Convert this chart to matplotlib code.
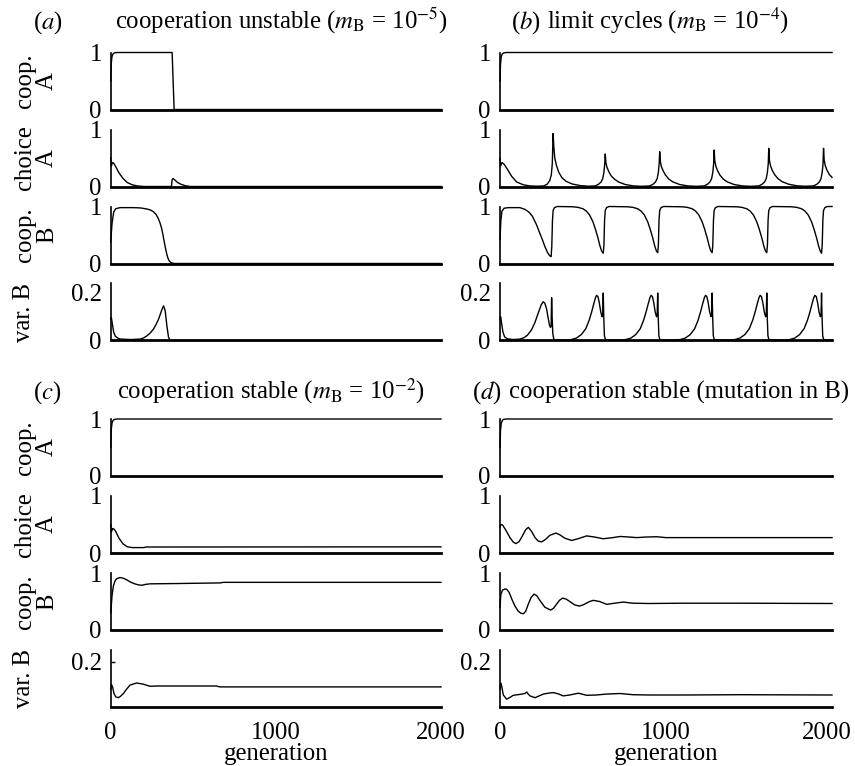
import matplotlib
matplotlib.use('Agg')
import matplotlib.pyplot as plt
import matplotlib.transforms as mtransforms

plt.rcParams['font.family'] = ['Liberation Serif', 'DejaVu Serif']
plt.rcParams['mathtext.fontset'] = 'stix'

# ---------------- data ----------------
xticks = [0, 1000, 2000]
xticklabels = ['0', '1000', '2000']
row_labels = ['coop.\nA', 'choice\nA', 'coop.\nB', 'var. B']
panel_letters = ['a', 'b', 'c', 'd']
panel_titles = [r'cooperation unstable ($m_{\mathrm{B}}$ = 10$^{-5}$)',
                r'limit cycles ($m_{\mathrm{B}}$ = 10$^{-4}$)',
                r'cooperation stable ($m_{\mathrm{B}}$ = 10$^{-2}$)',
                r'cooperation stable (mutation in B)']

# (a) cooperation unstable
a_coopA_gen = [0, 3, 8, 15, 25, 40, 372, 384, 2000]
a_coopA = [0.5, 0.8, 0.93, 0.98, 0.995, 1.0, 1.0, 0.0, 0.0]
a_choiceA_gen = [0, 4, 10, 18, 30, 50, 75, 100, 130, 160, 200, 368, 372, 378, 390, 405, 425, 450, 480, 2000]
a_choiceA = [0.5, 0.36, 0.42, 0.41, 0.35, 0.24, 0.14, 0.07, 0.03, 0.01, 0.0, 0.0, 0.12, 0.14, 0.11, 0.07, 0.04, 0.015, 0.0, 0.0]
a_coopB_gen = [0, 8, 18, 30, 56, 137, 180, 218, 240, 258, 275, 288, 299, 309, 316, 323, 331, 339, 346, 353, 361, 369, 385, 2000]
a_coopB = [0.38, 0.7, 0.9, 0.96, 0.98, 0.98, 0.975, 0.957, 0.94, 0.91, 0.86, 0.79, 0.71, 0.61, 0.51, 0.40, 0.28, 0.17, 0.1, 0.05, 0.025, 0.01, 0.0, 0.0]
a_varB_gen = [0, 4, 10, 18, 28, 45, 60, 120, 179, 200, 220, 240, 260, 275, 290, 300, 310, 320, 330, 340, 350, 360, 2000]
a_varB = [0.09, 0.097, 0.07, 0.035, 0.018, 0.009, 0.006, 0.004, 0.006, 0.011, 0.02, 0.032, 0.049, 0.068, 0.09, 0.11, 0.13, 0.146, 0.125, 0.063, 0.014, 0.0, 0.0]

# (b) limit cycles
b_coopA_gen = [0, 3, 8, 15, 25, 40, 2000]
b_coopA = [0.5, 0.8, 0.93, 0.98, 0.995, 1.0, 1.0]
b_choiceA_gen = [0, 4, 12, 25, 45, 70, 100, 140, 180, 230, 264, 284, 299, 309, 315, 320, 324, 330, 339, 354, 374, 399, 434, 484, 534,
                 574, 594, 609, 619, 626, 631, 634, 638, 644, 654, 669, 689, 714, 754, 804, 854,
                 902, 922, 937, 947, 954, 959, 962, 966, 972, 982, 997, 1017, 1042, 1082, 1132, 1182,
                 1230, 1250, 1265, 1275, 1282, 1287, 1290, 1294, 1300, 1310, 1325, 1345, 1370, 1410, 1460, 1510,
                 1559, 1579, 1594, 1604, 1611, 1616, 1619, 1623, 1629, 1639, 1654, 1674, 1699, 1739, 1789, 1839,
                 1889, 1909, 1924, 1934, 1941, 1946, 1949, 1953, 1959, 1969, 1984, 2000]
b_choiceA = [0.5, 0.36, 0.42, 0.39, 0.3, 0.18, 0.08, 0.03, 0.01, 0.005, 0.01, 0.04, 0.1, 0.2, 0.4, 0.93, 0.7, 0.5, 0.38, 0.25, 0.15, 0.09, 0.045, 0.015, 0.005,
             0.01, 0.04, 0.08, 0.14, 0.25, 0.4, 0.57, 0.42, 0.34, 0.27, 0.19, 0.13, 0.08, 0.035, 0.01, 0.003,
             0.01, 0.04, 0.08, 0.14, 0.25, 0.4, 0.61, 0.44, 0.35, 0.28, 0.2, 0.13, 0.08, 0.035, 0.01, 0.003,
             0.01, 0.04, 0.08, 0.14, 0.25, 0.4, 0.64, 0.45, 0.36, 0.28, 0.2, 0.13, 0.08, 0.035, 0.01, 0.003,
             0.01, 0.04, 0.08, 0.14, 0.25, 0.4, 0.67, 0.46, 0.37, 0.29, 0.21, 0.14, 0.085, 0.04, 0.012, 0.004,
             0.01, 0.04, 0.08, 0.14, 0.25, 0.4, 0.67, 0.46, 0.37, 0.29, 0.21, 0.16]
b_coopB_gen = [0, 5, 12, 25, 50, 120, 150, 175, 195, 220, 240, 255, 270, 285, 298, 308, 312, 316, 320, 328, 345,
               440, 470, 500, 520, 540, 560, 575, 590, 602, 612, 622, 626, 630, 634, 642, 657,
               770, 800, 830, 850, 870, 890, 905, 920, 932, 942, 950, 954, 958, 962, 970, 985,
               1098, 1128, 1158, 1178, 1198, 1218, 1233, 1248, 1260, 1270, 1278, 1282, 1286, 1290, 1298, 1313,
               1427, 1457, 1487, 1507, 1527, 1547, 1562, 1577, 1589, 1599, 1607, 1611, 1615, 1619, 1627, 1642,
               1757, 1787, 1817, 1837, 1857, 1877, 1892, 1907, 1919, 1929, 1937, 1941, 1945, 1949, 1957, 1972, 2000]
b_coopB = [0.42, 0.75, 0.92, 0.97, 0.98, 0.98, 0.95, 0.9, 0.83, 0.68, 0.53, 0.42, 0.3, 0.2, 0.14, 0.12, 0.3, 0.75, 0.93, 0.98, 1.0,
           0.995, 0.985, 0.96, 0.92, 0.85, 0.73, 0.6, 0.45, 0.31, 0.22, 0.18, 0.32, 0.76, 0.93, 0.98, 1.0,
           0.995, 0.985, 0.96, 0.92, 0.85, 0.73, 0.6, 0.45, 0.31, 0.22, 0.19, 0.32, 0.76, 0.93, 0.98, 1.0,
           0.995, 0.985, 0.96, 0.92, 0.85, 0.73, 0.6, 0.45, 0.31, 0.22, 0.19, 0.32, 0.76, 0.93, 0.98, 1.0,
           0.995, 0.985, 0.96, 0.92, 0.85, 0.73, 0.6, 0.45, 0.31, 0.22, 0.19, 0.32, 0.76, 0.93, 0.98, 1.0,
           0.995, 0.985, 0.96, 0.92, 0.85, 0.73, 0.6, 0.45, 0.31, 0.22, 0.18, 0.32, 0.76, 0.93, 0.98, 1.0, 1.0]
b_varB_gen = [0, 4, 10, 18, 28, 45, 80, 120, 145, 165, 190, 210, 230, 248, 260, 270, 280, 290, 298, 304, 308, 311, 314, 318, 324, 335,
              400, 430, 460, 490, 517, 537, 552, 565, 575, 582, 590, 598, 607, 615, 619, 622, 625, 629, 635, 650,
              728, 758, 788, 818, 845, 865, 880, 893, 903, 910, 918, 926, 935, 943, 947, 950, 953, 957, 963, 978,
              1056, 1086, 1116, 1146, 1173, 1193, 1208, 1221, 1231, 1238, 1246, 1254, 1263, 1271, 1275, 1278, 1281, 1285, 1291, 1306,
              1385, 1415, 1445, 1475, 1502, 1522, 1537, 1550, 1560, 1567, 1575, 1583, 1592, 1600, 1604, 1607, 1610, 1614, 1620, 1635,
              1715, 1745, 1775, 1805, 1832, 1852, 1867, 1880, 1890, 1897, 1905, 1913, 1922, 1930, 1934, 1937, 1940, 1944, 1950, 1965, 2000]
b_varB = [0.09, 0.1, 0.07, 0.035, 0.015, 0.007, 0.004, 0.006, 0.012, 0.022, 0.045, 0.075, 0.115, 0.15, 0.163, 0.157, 0.135, 0.095, 0.065, 0.055, 0.06, 0.18, 0.1, 0.03, 0.005, 0.002,
          0.002, 0.004, 0.01, 0.025, 0.05, 0.085, 0.12, 0.155, 0.18, 0.19, 0.185, 0.16, 0.12, 0.1, 0.11, 0.2, 0.1, 0.02, 0.004, 0.002,
          0.002, 0.004, 0.01, 0.025, 0.05, 0.085, 0.12, 0.155, 0.18, 0.19, 0.185, 0.16, 0.12, 0.1, 0.11, 0.2, 0.1, 0.02, 0.004, 0.002,
          0.002, 0.004, 0.01, 0.025, 0.05, 0.085, 0.12, 0.155, 0.18, 0.19, 0.185, 0.16, 0.12, 0.1, 0.11, 0.2, 0.1, 0.02, 0.004, 0.002,
          0.002, 0.004, 0.01, 0.025, 0.05, 0.085, 0.12, 0.155, 0.18, 0.19, 0.185, 0.16, 0.12, 0.1, 0.11, 0.2, 0.1, 0.02, 0.004, 0.002,
          0.002, 0.004, 0.01, 0.025, 0.05, 0.085, 0.12, 0.155, 0.18, 0.19, 0.185, 0.16, 0.12, 0.1, 0.11, 0.2, 0.1, 0.02, 0.004, 0.002, 0.002]

# (c) cooperation stable
c_coopA_gen = [0, 3, 8, 15, 25, 40, 2000]
c_coopA = [0.5, 0.8, 0.93, 0.98, 0.995, 1.0, 1.0]
c_choiceA_gen = [0, 4, 12, 20, 30, 50, 75, 100, 130, 160, 200, 215, 2000]
c_choiceA = [0.5, 0.37, 0.43, 0.42, 0.38, 0.26, 0.16, 0.11, 0.095, 0.095, 0.095, 0.105, 0.108]
c_coopB_gen = [0, 2, 8, 16, 26, 36, 56, 75, 97, 120, 145, 170, 190, 210, 238, 400, 662, 682, 2000]
c_coopB = [0.3, 0.36, 0.6, 0.77, 0.86, 0.9, 0.92, 0.91, 0.88, 0.84, 0.81, 0.79, 0.785, 0.8, 0.81, 0.815, 0.826, 0.836, 0.836]
c_varB_gen = [0, 5, 12, 20, 30, 46, 60, 77, 97, 117, 157, 198, 238, 278, 640, 660, 2000]
c_varB = [0.11, 0.125, 0.115, 0.095, 0.084, 0.081, 0.086, 0.095, 0.11, 0.123, 0.13, 0.126, 0.119, 0.12, 0.12, 0.117, 0.117]

# (d) cooperation stable (mutation in B)
d_coopA_gen = [0, 3, 8, 15, 25, 40, 2000]
d_coopA = [0.5, 0.8, 0.93, 0.98, 0.995, 1.0, 1.0]
d_choiceA_gen = [0, 5, 16, 35, 60, 80, 96, 115, 135, 155, 171, 190, 211, 230, 251, 275, 300, 337, 360, 390, 432, 470, 522, 570, 622, 680, 723, 780, 823, 880, 944, 1000, 2000]
d_choiceA = [0.45, 0.5, 0.49, 0.4, 0.27, 0.19, 0.165, 0.2, 0.3, 0.41, 0.45, 0.38, 0.27, 0.21, 0.195, 0.24, 0.31, 0.35, 0.32, 0.26, 0.22, 0.25, 0.30, 0.28, 0.25, 0.27, 0.29, 0.28, 0.27, 0.28, 0.285, 0.27, 0.27]
d_coopB_gen = [0, 5, 15, 30, 40, 55, 70, 90, 110, 125, 141, 155, 170, 187, 205, 222, 240, 270, 305, 322, 340, 358, 377, 400, 420, 450, 478, 500, 520, 540, 562, 600, 643, 690, 743, 800, 900, 1100, 1450, 2000]
d_coopB = [0.4, 0.62, 0.7, 0.72, 0.715, 0.66, 0.55, 0.42, 0.33, 0.295, 0.285, 0.33, 0.45, 0.57, 0.63, 0.6, 0.52, 0.4, 0.35, 0.38, 0.45, 0.52, 0.56, 0.54, 0.5, 0.44, 0.42, 0.44, 0.47, 0.5, 0.52, 0.5, 0.45, 0.47, 0.49, 0.47, 0.465, 0.47, 0.47, 0.465]
d_varB_gen = [0, 4, 10, 20, 40, 60, 80, 120, 150, 161, 170, 181, 211, 240, 261, 290, 321, 350, 381, 420, 472, 522, 580, 640, 723, 800, 900, 1100, 1450, 2000]
d_varB = [0.11, 0.13, 0.12, 0.09, 0.076, 0.082, 0.089, 0.092, 0.095, 0.1, 0.093, 0.087, 0.081, 0.088, 0.093, 0.096, 0.098, 0.094, 0.087, 0.09, 0.096, 0.089, 0.09, 0.093, 0.095, 0.091, 0.09, 0.09, 0.091, 0.09]

series = {
    'a': [(a_coopA_gen, a_coopA), (a_choiceA_gen, a_choiceA), (a_coopB_gen, a_coopB), (a_varB_gen, a_varB)],
    'b': [(b_coopA_gen, b_coopA), (b_choiceA_gen, b_choiceA), (b_coopB_gen, b_coopB), (b_varB_gen, b_varB)],
    'c': [(c_coopA_gen, c_coopA), (c_choiceA_gen, c_choiceA), (c_coopB_gen, c_coopB), (c_varB_gen, c_varB)],
    'd': [(d_coopA_gen, d_coopA), (d_choiceA_gen, d_choiceA), (d_coopB_gen, d_coopB), (d_varB_gen, d_varB)],
}

# ---------------- layout ----------------
FS = 17.8
W, H = 855, 766
fig = plt.figure(figsize=(W / 100, H / 100), dpi=100)

cols = {'a': (110.7, 441.0), 'b': (500.0, 832.0), 'c': (110.7, 441.0), 'd': (500.0, 832.0)}
block_top = {'a': 52.5, 'b': 52.5, 'c': 419.0, 'd': 419.0}
ROW_STEP, ROW_H = 77.0, 57.0
label_pos = {'a': (33, 28.5, 115), 'b': (511, 28.5, 547), 'c': (33, 398.5, 117), 'd': (472, 398.5, 509)}

for pi, p in enumerate(panel_letters):
    x0, x1 = cols[p]
    for r in range(4):
        yt = block_top[p] + r * ROW_STEP
        yb = yt + ROW_H
        ax = fig.add_axes([x0 / W, 1 - yb / H, (x1 - x0) / W, ROW_H / H])
        g, v = series[p][r]
        ax.plot(g, v, color='black', lw=1.0, clip_on=False)
        ax.set_xlim(0, 2000)
        if r < 3:
            ax.set_ylim(0, 1)
            ax.set_yticks([0, 1])
            ax.set_yticklabels(['0', '1'])
        else:
            if p in ('a', 'b'):
                ax.set_ylim(0, 0.24)
                ax.set_yticks([0, 0.2])
                ax.set_yticklabels(['0', '0.2'])
            else:
                ax.set_ylim(0.05, 0.24)
                ax.set_yticks([0.2])
                ax.set_yticklabels(['0.2'])
        for s in ('top', 'right'):
            ax.spines[s].set_visible(False)
        ax.spines['left'].set_linewidth(1.2)
        ax.spines['bottom'].set_linewidth(2.0)
        ax.tick_params(axis='y', direction='in', length=3 if (p == 'c' and r == 3) else 0,
                       width=1.0, pad=6.5, labelsize=FS)
        ax.tick_params(axis='x', direction='in', length=0, pad=11, labelsize=FS)
        if r == 3 and p in ('c', 'd'):
            ax.set_xticks(xticks)
            ax.set_xticklabels(xticklabels)
            ax.set_xlabel('generation', fontsize=FS, labelpad=-1)
            if p == 'd':
                last = ax.get_xticklabels()[-1]
                last.set_transform(last.get_transform() +
                                   mtransforms.ScaledTranslation(-5 / 100, 0, fig.dpi_scale_trans))
        else:
            ax.set_xticks([])
        ax.patch.set_alpha(0)
        # row labels on the left column
        if p in ('a', 'c'):
            yc = (yt + yb) / 2
            if r < 3:
                fig.text(36 / W, 1 - yc / H, row_labels[r], rotation=90, ha='center', va='center',
                         fontsize=FS, multialignment='center', linespacing=1.0)
            else:
                fig.text(24 / W, 1 - yc / H, row_labels[r], rotation=90, ha='center', va='center',
                         fontsize=FS)
    lx, by, tx = label_pos[p]
    fig.text(lx / W, 1 - by / H, '($' + p + '$)', ha='left', va='baseline', fontsize=FS)
    fig.text(tx / W, 1 - by / H, panel_titles[pi], ha='left', va='baseline', fontsize=FS)

fig.savefig('out.png', dpi=100)
